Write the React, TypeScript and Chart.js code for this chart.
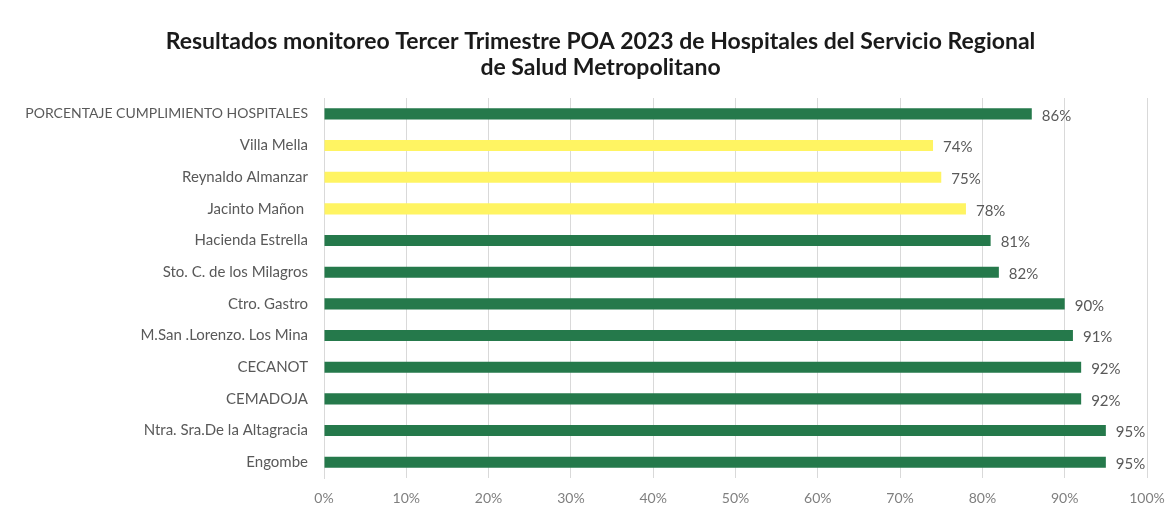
import React, { useEffect, useRef } from "react";
import { Chart, registerables } from "chart.js";

Chart.register(...registerables);

const TITLE_LINES = [
  "Resultados monitoreo Tercer Trimestre POA 2023 de Hospitales del Servicio Regional",
  "de Salud Metropolitano",
];

const categories = [
  "PORCENTAJE CUMPLIMIENTO HOSPITALES",
  "Villa Mella",
  "Reynaldo Almanzar",
  "Jacinto Mañon ",
  "Hacienda Estrella",
  "Sto. C. de los Milagros",
  "Ctro. Gastro",
  "M.San .Lorenzo. Los Mina",
  "CECANOT",
  "CEMADOJA",
  "Ntra. Sra.De la Altagracia",
  "Engombe",
];

const values = [86, 74, 75, 78, 81, 82, 90, 91, 92, 92, 95, 95];

// "green" = met target, "yellow" = below target
const status = [
  "green", "yellow", "yellow", "yellow", "green", "green",
  "green", "green", "green", "green", "green", "green",
];

const xTicks = [0, 10, 20, 30, 40, 50, 60, 70, 80, 90, 100];

const GREEN = "#25794B";
const YELLOW = "#FFF462";
const LABEL_FONT = "Lato";

const valueLabels = {
  id: "valueLabels",
  afterDatasetsDraw(chart: any) {
    const ctx = chart.ctx;
    const meta = chart.getDatasetMeta(0);
    ctx.save();
    ctx.font = `15px ${LABEL_FONT}`;
    ctx.fillStyle = "#595959";
    ctx.textAlign = "left";
    ctx.textBaseline = "middle";
    meta.data.forEach((bar: any, i: number) => {
      ctx.fillText(`${values[i]}%`, bar.x + 10, bar.y + 2);
    });
    ctx.restore();
  },
};

// shift the title block so it is centred like the original figure
const titleShift = {
  id: "titleShift",
  afterLayout(chart: any) {
    const t = chart.titleBlock;
    if (t) {
      t.left += 27;
      t.right += 27;
    }
  },
};

export default function App() {
  const ref = useRef<HTMLCanvasElement>(null);

  useEffect(() => {
    document.body.style.margin = "0";
    const chart = new Chart(ref.current!, {
      type: "bar",
      data: {
        labels: categories,
        datasets: [
          {
            data: values,
            backgroundColor: status.map((s) => (s === "green" ? GREEN : YELLOW)),
            barPercentage: 0.35,
            categoryPercentage: 1,
          },
        ],
      },
      options: {
        indexAxis: "y",
        animation: false,
        responsive: true,
        maintainAspectRatio: false,
        layout: { padding: { left: 0, right: 26, top: 0, bottom: 0 } },
        plugins: {
          legend: { display: false },
          tooltip: { enabled: false },
          title: {
            display: true,
            text: TITLE_LINES,
            color: "#1a1a1a",
            font: { family: LABEL_FONT, size: 23, weight: "bold", lineHeight: 26 / 23 },
            padding: { top: 29, bottom: 17 },
          },
        },
        scales: {
          x: {
            min: 0,
            max: 100,
            afterBuildTicks(scale: any) {
              scale.ticks = xTicks.map((v) => ({ value: v }));
            },
            afterFit(scale: any) {
              scale.height = 29;
              scale.paddingLeft = 0;
              scale.paddingRight = 0;
            },
            ticks: {
              callback: (v: any) => `${v}%`,
              color: "#7f7f7f",
              font: { family: LABEL_FONT, size: 14 },
              padding: 12,
              maxRotation: 0,
            },
            grid: { color: "#d9d9d9", drawTicks: false },
            border: { display: false },
          },
          y: {
            afterFit(scale: any) {
              scale.width = 324;
            },
            ticks: {
              color: "#595959",
              font: (c: any) => ({ family: LABEL_FONT, size: c.index === 0 ? 14 : 15 }),
              padding: 16,
            },
            grid: { display: false, drawTicks: false },
            border: { display: true, color: "#d9d9d9" },
          },
        },
      },
      plugins: [valueLabels, titleShift],
    });
    return () => chart.destroy();
  }, []);

  return (
    <div style={{ width: "1173px", height: "507px", position: "relative", background: "#fff" }}>
      <canvas ref={ref} />
    </div>
  );
}
